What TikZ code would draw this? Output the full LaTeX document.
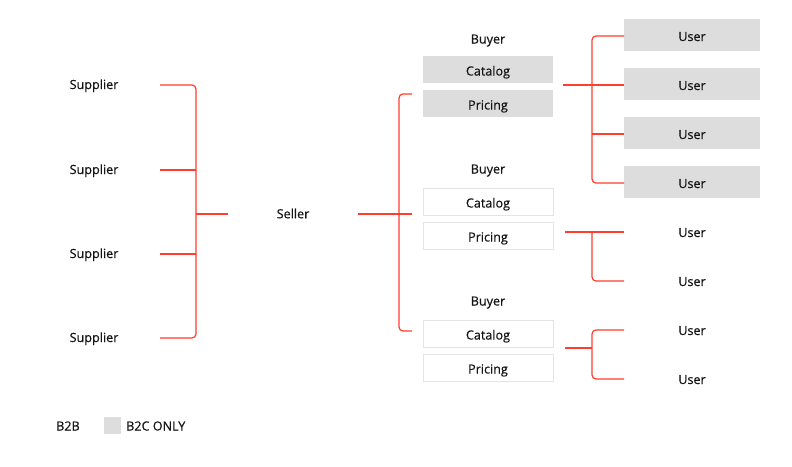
\documentclass[tikz,border=0pt]{standalone}
\usepackage{fontspec}
\newfontface\lblfont[FakeBold=0.4]{Open Sans}
\definecolor{linered}{RGB}{255,62,46}
\definecolor{boxgray}{RGB}{221,221,221}
\definecolor{boxline}{RGB}{228,228,228}
\definecolor{txt}{RGB}{20,20,20}
\begin{document}
\begin{tikzpicture}[x=1pt,y=-1pt,
  lbl/.style={font=\lblfont\fontsize{12.6}{14}\selectfont, text=txt, inner sep=0pt, text height=12pt, text depth=0pt},
  sup/.style={lbl, minimum width=132pt},
  usr/.style={lbl, minimum width=136pt, minimum height=32pt},
  usrbox/.style={usr, fill=boxgray},
  bbox/.style={lbl, minimum width=130pt, minimum height=27pt, draw=boxline, line width=0.8pt},
  gbox/.style={lbl, minimum width=130pt, minimum height=27pt, fill=boxgray},
  conn/.style={draw=linered, line width=1.2pt, rounded corners=4pt}]
\useasboundingbox (0,0) rectangle (792,466);
\fill[white] (0,0) rectangle (792,466);
% suppliers
\node[sup] (s1) at (94,83) {Supplier};
\node[sup] (s2) at (94,168) {Supplier};
\node[sup] (s3) at (94,252) {Supplier};
\node[sup] (s4) at (94,336) {Supplier};
\node[lbl, minimum width=130pt] (seller) at (293,212.3) {Seller};
% buyers
\node[lbl] (b1) at (488,37.5) {Buyer};
\node[gbox] (c1) at (488,69.5) {Catalog};
\node[gbox] (p1) at (488,103.5) {Pricing};
\node[lbl] (b2) at (488,167.5) {Buyer};
\node[bbox] (c2) at (488,201.5) {Catalog};
\node[bbox] (p2) at (488,235.5) {Pricing};
\node[lbl] (b3) at (488,299.5) {Buyer};
\node[bbox] (c3) at (488,333.5) {Catalog};
\node[bbox] (p3) at (488,367.5) {Pricing};
% users
\node[usrbox] (u1) at (692,35) {User};
\node[usrbox] (u2) at (692,84) {User};
\node[usrbox] (u3) at (692,133) {User};
\node[usrbox] (u4) at (692,182) {User};
\node[usr] (u5) at (692,231) {User};
\node[usr] (u6) at (692,280) {User};
\node[usr] (u7) at (692,329) {User};
\node[usr] (u8) at (692,378) {User};
% legend
\node[lbl, anchor=west] (b2b) at (56,424.5) {B2B};
\node[fill=boxgray, minimum size=17pt, inner sep=0pt] (sq) at (112.5,425.5) {};
\node[lbl, anchor=west] (b2c) at (126,424.5) {B2C ONLY};
% coordinates
\coordinate (lj) at (196,214);
\coordinate (rj) at (399,214);
\coordinate (rt) at (412,94);
\coordinate (rm) at (412,214);
\coordinate (rb) at (412,331);
\coordinate (g1s) at (563,85);
\coordinate (g1j) at (592,85);
\coordinate (g2s) at (565,232);
\coordinate (g2j) at (592,232);
\coordinate (g3s) at (565,348);
\coordinate (g3j) at (592,348);
\coordinate (e1) at (160,85);
\coordinate (e2) at (160,170);
\coordinate (e3) at (160,254);
\coordinate (e4) at (160,338);
\coordinate (sw) at (228,214);
\coordinate (se) at (358,214);
\coordinate (w1) at (624,36);
\coordinate (w2) at (624,85);
\coordinate (w3) at (624,134);
\coordinate (w4) at (624,183);
\coordinate (w5) at (624,232);
\coordinate (w6) at (624,281);
\coordinate (w7) at (624,330);
\coordinate (w8) at (624,379);
% left bracket
\draw[conn] (e1) -| (lj) |- (e4);
\draw[conn] (e2) -- (e2 -| lj);
\draw[conn] (e3) -- (e3 -| lj);
\draw[conn] (lj) -- (sw);
% seller bracket
\draw[conn] (rt) -| (rj) |- (rb);
\draw[conn] (se) -- (rm);
% group 1
\draw[conn] (w1) -| (g1j) |- (w4);
\draw[conn] (g1s) -- (w2);
\draw[conn] (w3) -- (w3 -| g1j);
% group 2
\draw[conn] (g2s) -- (w5);
\draw[conn] (g2j) |- (w6);
% group 3
\draw[conn] (w7) -| (g3j) |- (w8);
\draw[conn] (g3s) -- (g3j);
\end{tikzpicture}
\end{document}
